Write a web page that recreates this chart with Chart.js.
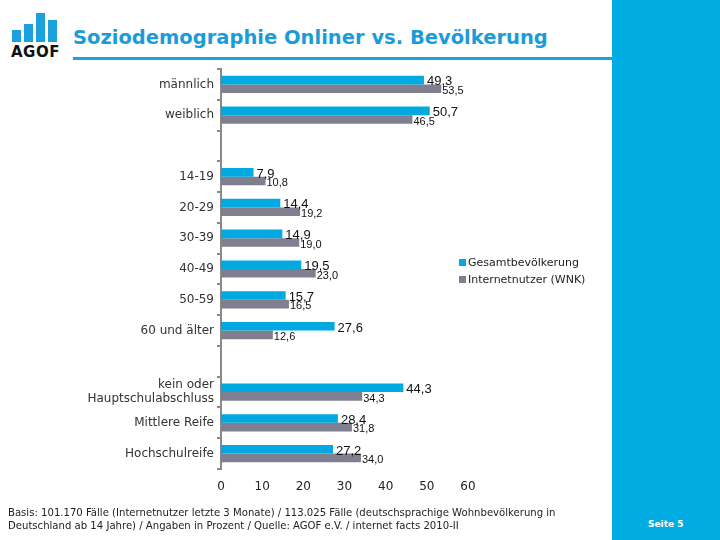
<!DOCTYPE html>
<html lang="de">
<head>
    <meta charset="UTF-8">
    <title>Soziodemographie Onliner vs. Bevölkerung</title>
    <script src="https://cdn.jsdelivr.net/npm/chart.js"></script>
    <style>
        body {
            margin: 0;
            width: 720px;
            height: 540px;
            position: relative;
            overflow: hidden;
            background: #ffffff;
            font-family: 'DejaVu Sans', Verdana, sans-serif;
            color: #222;
        }
        .side {
            position: absolute;
            left: 612px; top: 0;
            width: 108px; height: 540px;
            background: #00ace1;
        }
        .page {
            position: absolute;
            left: 648px; top: 519px;
            font-size: 9px;
            font-weight: bold;
            color: #ffffff;
        }
        .logo .bar {
            position: absolute;
            bottom: 498px;
            width: 9px;
            background: #1ba2dc;
        }
        .agof {
            position: absolute;
            left: 11px; top: 43px;
            font-size: 15px;
            font-weight: bold;
            color: #111;
            letter-spacing: 0.5px;
        }
        h1 {
            position: absolute;
            left: 73px; top: 26px;
            margin: 0;
            font-size: 19.5px;
            font-weight: bold;
            color: #1b9cd8;
            white-space: nowrap;
        }
        .rule {
            position: absolute;
            left: 73px; top: 57px;
            width: 539px; height: 3px;
            background: #1ba2dc;
        }
        #chart {
            position: absolute;
            left: 0; top: 0;
        }
        .legend {
            position: absolute;
            left: 459px; top: 254px;
            font-size: 11px;
            line-height: 17px;
        }
        .legend span {
            display: inline-block;
            width: 7px; height: 7px;
            margin-right: 2px;
        }
        .note {
            position: absolute;
            left: 8px; top: 506px;
            font-size: 10.1px;
            line-height: 13px;
            color: #222;
            white-space: nowrap;
        }
    </style>
</head>
<body>
    <div class="logo">
        <div class="bar" style="left:12px;height:12px"></div>
        <div class="bar" style="left:24px;height:18px"></div>
        <div class="bar" style="left:36px;height:29px"></div>
        <div class="bar" style="left:48px;height:22px"></div>
    </div>
    <div class="agof">AGOF</div>
    <h1>Soziodemographie Onliner vs. Bevölkerung</h1>
    <div class="rule"></div>
    <div class="side"></div>
    <div class="page">Seite 5</div>

    <canvas id="chart" width="612" height="540"></canvas>

    <div class="legend">
        <div><span style="background:#00a9e0"></span>Gesamtbevölkerung</div>
        <div><span style="background:#7f7f8f"></span>Internetnutzer (WNK)</div>
    </div>

    <div class="note">Basis: 101.170 Fälle (Internetnutzer letzte 3 Monate) / 113.025 Fälle (deutschsprachige Wohnbevölkerung in<br>Deutschland ab 14 Jahre) / Angaben in Prozent / Quelle: AGOF e.V. / internet facts 2010-II</div>

    <script>
        // categories (empty entries are the gaps between groups)
        const categories = [
            'männlich', 'weiblich', '',
            '14-19', '20-29', '30-39', '40-49', '50-59', '60 und älter', '',
            ['kein oder', 'Hauptschulabschluss'], 'Mittlere Reife', 'Hochschulreife'
        ];
        const gesamt = [49.3, 50.7, null, 7.9, 14.4, 14.9, 19.5, 15.7, 27.6, null, 44.3, 28.4, 27.2];
        const internet = [53.5, 46.5, null, 10.8, 19.2, 19.0, 23.0, 16.5, 12.6, null, 34.3, 31.8, 34.0];
        const xTicks = [0, 10, 20, 30, 40, 50, 60];

        const fmt = v => v.toFixed(1).replace('.', ',');

        // value labels at the end of each bar
        const barLabels = {
            id: 'barLabels',
            afterDatasetsDraw(chart) {
                const ctx = chart.ctx;
                ctx.save();
                ctx.fillStyle = '#111';
                ctx.textBaseline = 'alphabetic';
                ctx.textAlign = 'left';
                chart.data.datasets.forEach((ds, di) => {
                    const meta = chart.getDatasetMeta(di);
                    ctx.font = di === 0 ? '13px "Liberation Sans", Arial' : '11px "Liberation Sans", Arial';
                    ds.data.forEach((v, i) => {
                        if (v == null) return;
                        const bar = meta.data[i];
                        const off = di === 0 ? 3 : 1;
                        ctx.fillText(fmt(v), bar.x + off, bar.y + bar.height / 2 + 1);
                    });
                });
                ctx.restore();
            }
        };

        new Chart(document.getElementById('chart'), {
            type: 'bar',
            data: {
                labels: categories,
                datasets: [
                    { label: 'Gesamtbevölkerung', data: gesamt, backgroundColor: '#00a9e0' },
                    { label: 'Internetnutzer (WNK)', data: internet, backgroundColor: '#7f7f8f' }
                ]
            },
            options: {
                indexAxis: 'y',
                responsive: false,
                animation: false,
                events: [],
                categoryPercentage: 0.56,
                barPercentage: 1,
                layout: { padding: { top: 69, right: 144, bottom: 46, left: 0 } },
                plugins: {
                    legend: { display: false },
                    tooltip: { enabled: false }
                },
                scales: {
                    x: {
                        min: 0,
                        max: 60,
                        afterBuildTicks: s => { s.ticks = xTicks.map(v => ({ value: v })); },
                        afterFit: s => { s.height = 25; },
                        border: { display: false },
                        grid: { display: false, drawTicks: false },
                        ticks: {
                            padding: 11,
                            color: '#222',
                            font: { family: '"DejaVu Sans"', size: 12 }
                        }
                    },
                    y: {
                        afterFit: s => { s.width = 221; },
                        border: { display: true, color: '#8a8a8a', width: 2 },
                        grid: {
                            drawOnChartArea: false,
                            color: '#8a8a8a',
                            lineWidth: 2,
                            tickLength: 4
                        },
                        ticks: {
                            padding: 3,
                            color: '#333',
                            autoSkip: false,
                            font: { family: '"DejaVu Sans"', size: 12 }
                        }
                    }
                }
            },
            plugins: [barLabels]
        });
    </script>
</body>
</html>
